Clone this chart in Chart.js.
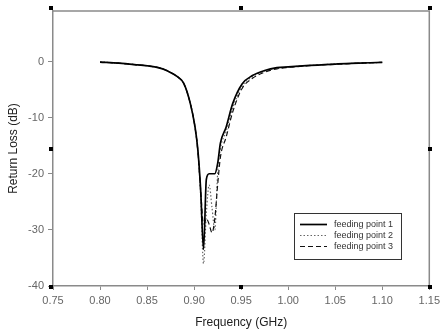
<!DOCTYPE html>
<html>
<head>
<meta charset="utf-8">
<script src="https://cdn.jsdelivr.net/npm/chart.js@4"></script>
<style>
  body { margin: 0; background: #fff; }
</style>
</head>
<body>
<canvas id="rlChart" width="444" height="333"></canvas>
<script>
// data (GHz / dB)
const freq = [0.800, 0.820, 0.840, 0.852, 0.862, 0.872, 0.883, 0.889, 0.896, 0.901, 0.904, 0.907, 0.910, 0.913, 0.916, 0.919, 0.922, 0.925, 0.928, 0.934, 0.941, 0.951, 0.962, 0.975, 0.988, 1.000, 1.023, 1.050, 1.075, 1.100];
const fp1 = [-0.1, -0.3, -0.6, -0.8, -1.1, -1.7, -2.8, -3.9, -7.5, -11.7, -15.8, -23, -33.5, -21, -20, -20, -20, -18.2, -14.5, -11.7, -7.5, -4.0, -2.5, -1.6, -1.1, -0.95, -0.7, -0.45, -0.3, -0.15];
const fp2 = [-0.1, -0.3, -0.6, -0.8, -1.1, -1.7, -2.8, -3.9, -7.5, -11.7, -16, -24, -36, -27, -22, -26, -30, -20, -15.5, -12.5, -8.3, -4.4, -2.7, -1.7, -1.2, -1.0, -0.7, -0.45, -0.3, -0.15];
const fp3 = [-0.1, -0.3, -0.6, -0.8, -1.1, -1.7, -2.8, -3.9, -7.5, -11.7, -16, -23, -29, -28, -29, -30.5, -28, -22, -17, -13.5, -9, -4.8, -3.0, -1.9, -1.3, -1.05, -0.75, -0.5, -0.3, -0.15];
const seriesNames = ["feeding point 1", "feeding point 2", "feeding point 3"];
const xTicks = [0.75, 0.80, 0.85, 0.90, 0.95, 1.00, 1.05, 1.10, 1.15];
const yTicks = [-40, -30, -20, -10, 0];

const pts = ys => freq.map((f, i) => ({ x: f, y: ys[i] }));

// frame (top/right), corner handles and the boxed legend
const extras = {
  id: "extras",
  afterDraw(chart) {
    const { ctx, chartArea: a } = chart;
    ctx.save();
    ctx.strokeStyle = "#8a8a8a";
    ctx.lineWidth = 1.5;
    ctx.beginPath();
    ctx.moveTo(a.left, a.top);
    ctx.lineTo(a.right, a.top);
    ctx.lineTo(a.right, a.bottom);
    ctx.stroke();

    ctx.fillStyle = "#000";
    const mx = (a.left + a.right) / 2, my = (a.top + a.bottom) / 2;
    [[a.left - 2, a.top - 3], [mx, a.top - 3], [a.right + 1, a.top - 3],
     [a.left - 2, my], [a.right + 1, my],
     [a.left - 2, a.bottom + 1], [mx, a.bottom + 1], [a.right + 1, a.bottom + 1]]
      .forEach(([x, y]) => ctx.fillRect(Math.round(x - 2), Math.round(y - 2), 4, 4));

    // legend box
    const bx = 294, by = 213, bw = 107, bh = 46;
    ctx.fillStyle = "#fff";
    ctx.fillRect(bx, by, bw, bh);
    ctx.strokeStyle = "#333";
    ctx.lineWidth = 1;
    ctx.strokeRect(bx + 0.5, by + 0.5, bw, bh);
    ctx.font = "9px Arial, 'Liberation Sans', sans-serif";
    ctx.textBaseline = "middle";
    chart.data.datasets.forEach((ds, i) => {
      const y = by + 11.5 + i * 11;
      ctx.strokeStyle = ds.borderColor;
      ctx.lineWidth = ds.borderWidth;
      ctx.setLineDash(ds.borderDash || []);
      ctx.beginPath();
      ctx.moveTo(bx + 6, y);
      ctx.lineTo(bx + 33, y);
      ctx.stroke();
      ctx.setLineDash([]);
      ctx.fillStyle = "#333";
      ctx.fillText(ds.label, bx + 40, y);
    });
    ctx.restore();
  }
};

new Chart(document.getElementById("rlChart").getContext("2d"), {
  type: "line",
  data: {
    datasets: [
      { label: seriesNames[0], data: pts(fp1), borderColor: "#000", borderWidth: 1.7, order: 0 },
      { label: seriesNames[1], data: pts(fp2), borderColor: "#666", borderWidth: 1.2, borderDash: [1.5, 2], order: 2 },
      { label: seriesNames[2], data: pts(fp3), borderColor: "#111", borderWidth: 1.2, borderDash: [5, 3], order: 1 }
    ]
  },
  options: {
    responsive: false,
    animation: false,
    layout: { padding: { top: 11, right: 10, left: 0, bottom: 0 } },
    elements: { point: { radius: 0 }, line: { cubicInterpolationMode: "monotone", fill: false } },
    plugins: { legend: { display: false }, tooltip: { enabled: false } },
    scales: {
      x: {
        type: "linear",
        min: 0.75, max: 1.15,
        afterBuildTicks: s => { s.ticks = xTicks.map(v => ({ value: v })); },
        afterFit: s => { s.height = 47; },
        border: { color: "#8a8a8a", width: 1.5 },
        grid: { drawOnChartArea: false, color: "#8a8a8a", tickLength: 4 },
        ticks: {
          color: "#666", padding: 4, maxRotation: 0,
          font: { family: "Arial, 'Liberation Sans', sans-serif", size: 11 },
          callback: v => v.toFixed(2)
        },
        title: {
          display: true, text: "Frequency (GHz)", color: "#222",
          font: { family: "Arial, 'Liberation Sans', sans-serif", size: 12 },
          padding: { top: 0, bottom: 3 }
        }
      },
      y: {
        min: -40, max: 9,
        afterBuildTicks: s => { s.ticks = yTicks.map(v => ({ value: v })); },
        afterFit: s => { s.width = 53; },
        border: { color: "#8a8a8a", width: 1.5 },
        grid: { drawOnChartArea: false, color: "#8a8a8a", tickLength: 5 },
        ticks: {
          color: "#666", padding: 4,
          font: { family: "Arial, 'Liberation Sans', sans-serif", size: 11 }
        },
        title: {
          display: true, text: "Return Loss (dB)", color: "#222",
          font: { family: "Arial, 'Liberation Sans', sans-serif", size: 12 },
          padding: { top: 6, bottom: 0 }
        }
      }
    }
  },
  plugins: [extras]
});
</script>
</body>
</html>
